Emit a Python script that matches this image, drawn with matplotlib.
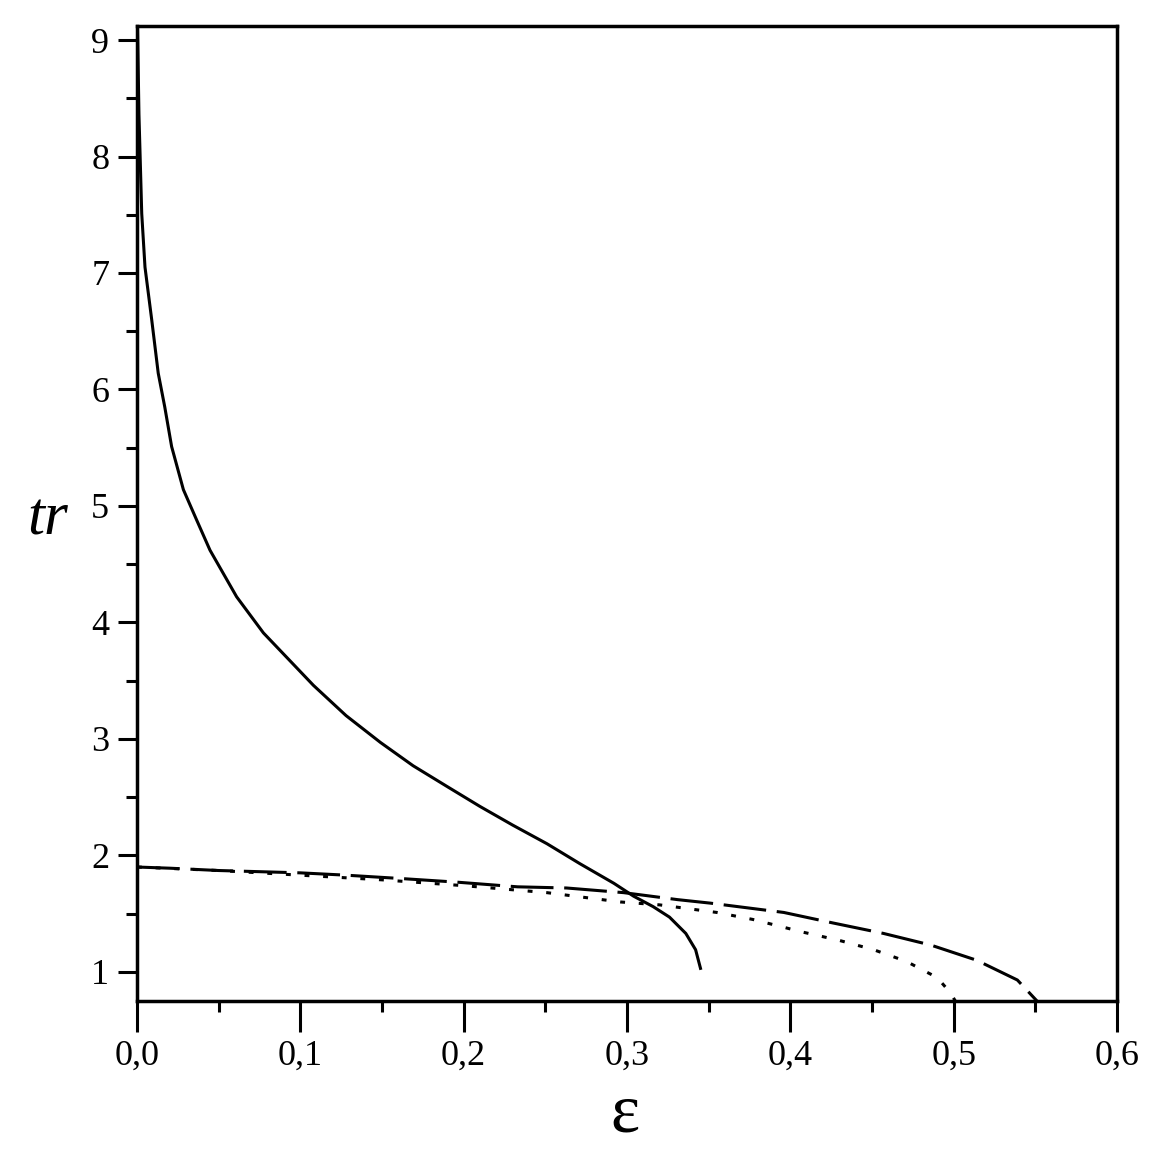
import numpy as np
import matplotlib
matplotlib.use("Agg")
import matplotlib.pyplot as plt
from matplotlib.ticker import MultipleLocator, FuncFormatter

plt.rcParams['font.family'] = ['Liberation Serif', 'DejaVu Serif']

# solid curve
eps_solid = [0.0003, 0.0008, 0.0012, 0.0029, 0.0049, 0.009, 0.013, 0.017, 0.0212, 0.0284,
             0.0365, 0.0447, 0.061, 0.0774, 0.0876, 0.108, 0.128, 0.149, 0.169, 0.190,
             0.210, 0.230, 0.251, 0.271, 0.292, 0.304, 0.316, 0.326, 0.336, 0.342, 0.345]
tr_solid = [9.12, 8.7, 8.36, 7.51, 7.05, 6.60, 6.14, 5.85, 5.51, 5.14,
            4.88, 4.62, 4.22, 3.91, 3.76, 3.46, 3.20, 2.97, 2.77, 2.59,
            2.42, 2.26, 2.10, 1.93, 1.76, 1.65, 1.56, 1.47, 1.33, 1.19, 1.03]

# long dashed curve
eps_dash = [0.0, 0.02, 0.05, 0.1, 0.128, 0.163, 0.196, 0.233, 0.263, 0.298, 0.331, 0.351,
            0.396, 0.426, 0.457, 0.486, 0.514, 0.539, 0.549, 0.551]
tr_dash = [1.90, 1.89, 1.87, 1.85, 1.83, 1.80, 1.77, 1.73, 1.72, 1.68, 1.62, 1.59,
           1.51, 1.42, 1.33, 1.23, 1.10, 0.93, 0.78, 0.75]

# short dashed (dotted) curve
eps_dot = [0.0, 0.05, 0.1, 0.15, 0.2, 0.251, 0.296, 0.32, 0.355, 0.377, 0.408, 0.430,
           0.451, 0.471, 0.490, 0.498, 0.501]
tr_dot = [1.90, 1.87, 1.83, 1.79, 1.74, 1.68, 1.60, 1.575, 1.51, 1.45, 1.34, 1.27,
          1.19, 1.09, 0.95, 0.82, 0.75]

fig = plt.figure(figsize=(11.58, 11.58), dpi=100)
ax = fig.add_axes([0.1183, 0.1356, 0.8463, 0.8419])

ax.plot(eps_solid, tr_solid, color='black', lw=2.2)
ax.plot(eps_dash, tr_dash, color='black', lw=2.2, dashes=(14, 3.5))
ax.plot(eps_dot, tr_dot, color='black', lw=2.2, dashes=(1.6, 4.5))

ax.set_xlim(0, 0.6)
ax.set_ylim(0.75, 9.12)

ax.xaxis.set_major_locator(MultipleLocator(0.1))
ax.xaxis.set_minor_locator(MultipleLocator(0.05))
ax.yaxis.set_major_locator(MultipleLocator(1))
ax.yaxis.set_minor_locator(MultipleLocator(0.5))
ax.xaxis.set_major_formatter(FuncFormatter(lambda v, p: f"{v:.1f}".replace('.', ',')))
ax.yaxis.set_major_formatter(FuncFormatter(lambda v, p: f"{v:.0f}"))

ax.tick_params(which='both', direction='out', width=2.2, labelsize=26, top=False, right=False)
ax.tick_params(axis='x', which='major', length=22, pad=6)
ax.tick_params(axis='x', which='minor', length=8)
ax.tick_params(axis='y', which='major', length=14, pad=6)
ax.tick_params(axis='y', which='minor', length=8)
for s in ax.spines.values():
    s.set_linewidth(2.5)

fig.text(48 / 1158, 1 - 520 / 1158, "tr", fontsize=44, style='italic', ha='center', va='center')
fig.text(625 / 1158, 1 - 1115 / 1158, "ε", fontsize=50, ha='center', va='center')

fig.savefig("out.png", dpi=100)
